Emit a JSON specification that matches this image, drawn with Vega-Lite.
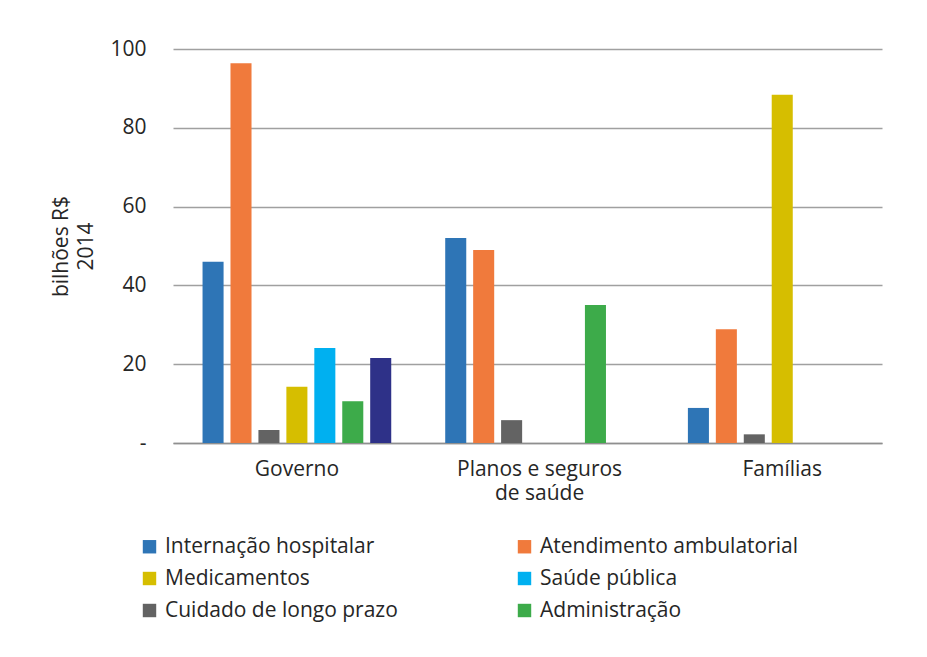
{
  "$schema": "https://vega.github.io/schema/vega-lite/v6.json",
  "width": 709,
  "height": 394,
  "autosize": {"type": "none"},
  "padding": {"left": 173, "top": 49, "right": 45, "bottom": 214},
  "background": "white",
  "data": {
    "values": [
      {"setor": "Governo", "categoria": "Internação hospitalar", "valor": 46.0},
      {"setor": "Governo", "categoria": "Atendimento ambulatorial", "valor": 96.4},
      {"setor": "Governo", "categoria": "Cuidado de longo prazo", "valor": 3.3},
      {"setor": "Governo", "categoria": "Medicamentos", "valor": 14.3},
      {"setor": "Governo", "categoria": "Saúde pública", "valor": 24.1},
      {"setor": "Governo", "categoria": "Administração", "valor": 10.6},
      {"setor": "Governo", "categoria": "Outros", "valor": 21.6},
      {"setor": "Planos e seguros de saúde", "categoria": "Internação hospitalar", "valor": 52.0},
      {"setor": "Planos e seguros de saúde", "categoria": "Atendimento ambulatorial", "valor": 49.0},
      {"setor": "Planos e seguros de saúde", "categoria": "Cuidado de longo prazo", "valor": 5.8},
      {"setor": "Planos e seguros de saúde", "categoria": "Administração", "valor": 35.0},
      {"setor": "Famílias", "categoria": "Internação hospitalar", "valor": 8.9},
      {"setor": "Famílias", "categoria": "Atendimento ambulatorial", "valor": 28.9},
      {"setor": "Famílias", "categoria": "Cuidado de longo prazo", "valor": 2.2},
      {"setor": "Famílias", "categoria": "Medicamentos", "valor": 88.4}
    ]
  },
  "mark": {"type": "bar"},
  "encoding": {
    "x": {
      "field": "setor",
      "type": "nominal",
      "sort": ["Governo", "Planos e seguros de saúde", "Famílias"],
      "scale": {"paddingInner": 0.194, "paddingOuter": 0.0578, "align": 0.93},
      "axis": {
        "title": null,
        "labelAngle": 0,
        "ticks": false,
        "domain": true,
        "domainColor": "#8F8F8F",
        "domainWidth": 1.5,
        "labelPadding": 15,
        "labelLineHeight": 24,
        "labelExpr": "datum.value == 'Planos e seguros de saúde' ? ['Planos e seguros', 'de saúde'] : datum.label"
      }
    },
    "xOffset": {
      "field": "categoria",
      "type": "nominal",
      "scale": {
        "domain": ["Internação hospitalar", "Atendimento ambulatorial", "Cuidado de longo prazo", "Medicamentos", "Saúde pública", "Administração", "Outros"],
        "paddingInner": 0.247,
        "paddingOuter": 0.1235
      }
    },
    "y": {
      "field": "valor",
      "type": "quantitative",
      "scale": {"domain": [0, 100]},
      "axis": {
        "values": [0, 20, 40, 60, 80, 100],
        "title": ["bilhões R$", "2014"],
        "titleLineHeight": 25,
        "titlePadding": 13,
        "labelExpr": "datum.value == 0 ? '-' : datum.label",
        "domain": false,
        "ticks": false,
        "grid": true,
        "gridColor": "#A0A0A0",
        "gridWidth": 1.5,
        "labelPadding": 27
      }
    },
    "color": {
      "field": "categoria",
      "type": "nominal",
      "scale": {
        "domain": ["Internação hospitalar", "Atendimento ambulatorial", "Cuidado de longo prazo", "Medicamentos", "Saúde pública", "Administração", "Outros"],
        "range": ["#2E75B6", "#F07A3C", "#636363", "#D6BE00", "#00B0F0", "#3DAB4A", "#2E3188"]
      },
      "legend": {
        "title": null,
        "orient": "none",
        "legendX": -34,
        "legendY": 487,
        "columns": 2,
        "values": ["Internação hospitalar", "Medicamentos", "Cuidado de longo prazo", "Atendimento ambulatorial", "Saúde pública", "Administração"],
        "symbolType": "square",
        "symbolSize": 180,
        "symbolStrokeWidth": 0,
        "labelFontSize": 21,
        "labelColor": "#262626",
        "labelOffset": 5,
        "columnPadding": 116,
        "rowPadding": 10,
        "labelLimit": 400
      }
    }
  },
  "config": {
    "font": "Open Sans",
    "view": {"stroke": null},
    "axis": {
      "labelFontSize": 21,
      "titleFontSize": 21,
      "titleFontWeight": "normal",
      "labelColor": "#262626",
      "titleColor": "#262626"
    }
  }
}
